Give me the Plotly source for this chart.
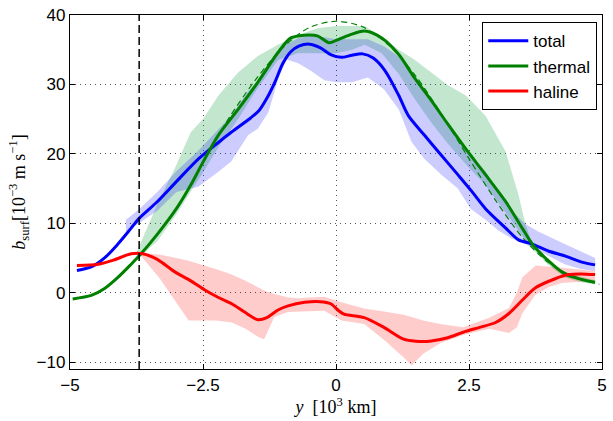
import plotly.graph_objects as go

# ---- data (y in 10^3 km, b_surf in 10^-3 m s^-1) ----
x_total = [-4.87, -4.6, -4.35, -4.1, -3.85, -3.7, -3.36, -3.0, -2.58, -2.2, -1.97, -1.6, -1.45, -1.3,
           -1.15, -1.0, -0.85, -0.7, -0.5, -0.3, -0.1, 0.1, 0.3, 0.5, 0.7, 0.92, 1.18, 1.36, 1.66,
           1.98, 2.29, 2.53, 2.81, 3.19, 3.43, 3.69, 3.99, 4.3, 4.62, 4.87]
y_total = [3.2, 3.7, 5.0, 7.0, 9.3, 10.7, 13.1, 16.0, 19.3, 21.7, 23.1, 25.2, 26.2, 28.0,
           30.3, 33.0, 34.7, 35.5, 35.8, 35.3, 34.3, 33.9, 34.2, 34.4, 33.8, 32.0, 28.4, 25.5, 22.7,
           19.8, 17.0, 14.8, 12.1, 9.3, 7.6, 7.0, 6.0, 5.3, 4.4, 4.0]

x_thermal = [-4.95, -4.6, -4.35, -4.1, -3.85, -3.7, -3.36, -3.0, -2.73, -2.5, -2.21, -1.84, -1.47,
             -1.09, -0.85, -0.59, -0.35, -0.13, 0.02, 0.25, 0.54, 0.86, 1.18, 1.47, 1.79, 2.1, 2.44,
             2.81, 3.19, 3.5, 3.69, 3.99, 4.3, 4.62, 4.87]
y_thermal = [-0.9, -0.4, 0.6, 2.2, 4.1, 5.3, 8.4, 12.1, 15.5, 18.8, 22.7, 26.4, 30.3,
             34.6, 36.7, 37.1, 37.0, 36.0, 36.4, 37.1, 37.7, 36.7, 34.3, 31.0, 27.7, 24.3, 20.7,
             17.0, 13.1, 9.3, 7.0, 4.6, 2.7, 1.9, 1.5]

x_haline = [-4.87, -4.47, -4.18, -3.85, -3.63, -3.36, -3.05, -2.73, -2.45, -2.21, -1.96, -1.72, -1.47,
            -1.3, -1.09, -0.9, -0.59, -0.3, -0.1, 0.05, 0.15, 0.53, 0.9, 1.27, 1.5, 1.76, 2.1, 2.39,
            2.7, 3.0, 3.25, 3.5, 3.75, 4.12, 4.37, 4.6, 4.87]
y_haline = [3.9, 4.1, 4.7, 5.6, 5.6, 4.8, 3.1, 1.7, 0.3, -0.7, -1.6, -2.8, -3.9,
            -3.6, -2.5, -1.9, -1.4, -1.3, -1.6, -2.6, -3.1, -3.6, -5.0, -6.7, -7.0, -7.0, -6.5, -5.7,
            -5.0, -4.3, -3.0, -1.1, 0.7, 2.0, 2.6, 2.7, 2.6]

# fitted thermal profile (dashed)
x_fit = [-3.7, -3.0, -2.5, -2.0, -1.5, -1.0, -0.5, 0.0, 0.5, 1.0, 1.5, 2.0, 2.5, 3.0, 3.5, 4.0, 4.5, 4.95]
y_fit = [5.3, 12.0, 18.8, 25.3, 30.8, 35.3, 38.2, 39.1, 38.3, 35.6, 31.2, 25.5, 19.3, 13.3, 8.0, 4.3, 2.2, 1.2]

# spread envelopes
x_total_band = [-3.95, -3.7, -3.36, -3.0, -2.58, -2.21, -1.97, -1.65, -1.47, -1.27, -1.09, -0.93, -0.72,
                -0.48, -0.22, 0.0, 0.3, 0.6, 0.9, 1.18, 1.42, 1.66, 1.98, 2.29, 2.53, 2.81, 3.06, 3.3,
                3.56, 3.8, 4.3, 4.6, 4.87]
lo_total = [8.8, 10.0, 11.8, 14.5, 15.3, 17.4, 18.9, 22.7, 23.6, 26.0, 30.7, 33.6, 33.1,
            32.0, 30.6, 30.3, 30.3, 31.0, 29.3, 26.4, 21.7, 19.3, 17.0, 15.0, 12.1, 10.5, 8.9, 7.8,
            7.0, 6.0, 4.1, 3.4, 3.1]
hi_total = [10.5, 12.0, 14.5, 17.5, 20.5, 23.5, 25.5, 29.0, 30.5, 32.5, 34.5, 35.8, 36.6,
            37.0, 36.8, 36.5, 36.5, 36.5, 35.5, 34.0, 31.5, 28.8, 25.5, 22.5, 19.8, 17.5, 14.5, 11.8,
            9.9, 8.8, 7.0, 6.0, 5.0]

x_thermal_band = [-3.75, -3.36, -3.0, -2.73, -2.5, -2.21, -1.84, -1.47, -1.09, -0.72, -0.35, 0.0, 0.3,
                  0.54, 0.86, 1.18, 1.47, 1.79, 2.1, 2.44, 2.81, 3.19, 3.43, 3.56, 3.69, 3.99, 4.3,
                  4.6, 4.87]
hi_thermal = [5.8, 12.7, 18.4, 23.1, 25.0, 28.4, 31.7, 34.1, 35.7, 37.1, 38.1, 38.4, 38.4,
              38.4, 36.8, 35.0, 33.6, 31.7, 29.9, 28.4, 25.5, 20.3, 14.1, 9.9, 7.0, 4.5, 3.0,
              2.3, 1.8]
lo_thermal = [4.8, 7.4, 11.3, 14.6, 17.3, 21.0, 25.0, 29.5, 33.5, 34.5, 34.5, 34.5, 35.0,
              35.7, 34.5, 31.5, 28.0, 24.5, 21.5, 18.5, 15.5, 11.5, 9.0, 7.5, 6.3, 4.0, 2.2,
              1.5, 1.2]

x_haline_band = [-3.7, -3.32, -3.0, -2.77, -2.26, -1.96, -1.7, -1.46, -1.35, -1.16, -0.9, -0.72, -0.22,
                 0.1, 0.53, 0.9, 1.15, 1.27, 1.42, 1.64, 1.96, 2.39, 2.88, 3.25, 3.4, 3.5, 3.75, 4.0,
                 4.25, 4.87]
hi_haline = [5.7, 5.5, 5.0, 4.6, 3.4, 2.6, 1.7, 0.8, 0.3, -0.2, -0.7, -0.8, -0.6,
             -1.4, -2.3, -2.7, -3.0, -3.2, -3.5, -4.0, -4.5, -5.0, -3.6, -2.2, 0.0, 2.2, 3.9, 3.8,
             3.6, 3.1]
lo_haline = [5.6, 2.1, -1.4, -4.0, -4.0, -4.3, -5.2, -6.4, -6.7, -3.5, -2.8, -2.8, -2.6,
             -4.0, -4.5, -6.8, -8.5, -9.3, -10.5, -8.8, -7.3, -6.1, -5.2, -5.8, -5.0, -3.0, -0.3, 0.8,
             1.4, 1.7]

y_divide = -3.7  # vertical reference position

x_ticks = [-5, -2.5, 0, 2.5, 5]
x_ticklabels = ["\u22125", "\u22122.5", "0", "2.5", "5"]
y_ticks = [-10, 0, 10, 20, 30, 40]
y_ticklabels = ["\u221210", "0", "10", "20", "30", "40"]

names = ["total", "thermal", "haline"]
line_colors = ["#0000ff", "#008000", "#ff0000"]
band_colors = ["rgba(0,0,255,0.2)", "rgba(0,150,50,0.24)", "rgba(255,0,0,0.2)"]

fig = go.Figure()


def band(x, lo, hi, color):
    fig.add_trace(go.Scatter(
        x=list(x) + list(x)[::-1], y=list(hi) + list(lo)[::-1],
        fill="toself", fillcolor=color, mode="lines", line=dict(width=0),
        hoverinfo="skip", showlegend=False))


band(x_thermal_band, lo_thermal, hi_thermal, band_colors[1])
band(x_total_band, lo_total, hi_total, band_colors[0])
band(x_haline_band, lo_haline, hi_haline, band_colors[2])

fig.add_trace(go.Scatter(x=x_fit, y=y_fit, mode="lines", showlegend=False,
                         line=dict(color=line_colors[1], width=1.2, dash="6px,4px",
                                   shape="spline", smoothing=0.8)))

for xs, ys, nm, c in [(x_total, y_total, names[0], line_colors[0]),
                      (x_thermal, y_thermal, names[1], line_colors[1]),
                      (x_haline, y_haline, names[2], line_colors[2])]:
    fig.add_trace(go.Scatter(x=xs, y=ys, mode="lines", name=nm,
                             line=dict(color=c, width=3, shape="spline", smoothing=0.8)))

fig.add_shape(type="line", xref="x", yref="paper", x0=y_divide, x1=y_divide, y0=0, y1=1,
              line=dict(color="black", width=1.5, dash="8px,4px"))

tick_font = dict(family="Liberation Sans, Arial, sans-serif", size=17, color="black")
serif = "Liberation Serif, DejaVu Serif, serif"

axis_common = dict(showline=True, linecolor="black", linewidth=1.3, mirror="ticks",
                   ticks="inside", ticklen=5, tickcolor="black", tickfont=tick_font,
                   showgrid=True, gridcolor="rgba(40,40,40,0.8)", griddash="1px,4px", gridwidth=1,
                   zeroline=False)

fig.update_layout(
    width=613, height=421,
    margin=dict(l=70, r=6, t=12, b=52),
    paper_bgcolor="white", plot_bgcolor="white",
    xaxis=dict(range=[-5, 5], tickvals=x_ticks, ticktext=x_ticklabels,
               title=dict(text="<i>y</i>  [10<sup>3</sup> km]", standoff=2,
                          font=dict(family=serif, size=18, color="black")),
               **axis_common),
    yaxis=dict(range=[-11, 40], tickvals=y_ticks, ticktext=y_ticklabels,
               title=dict(text="<i>b</i><sub>surf</sub>[10<sup>\u22123</sup> m s<sup>\u22121</sup>]",
                          standoff=6, font=dict(family=serif, size=18, color="black")),
               **axis_common),
    legend=dict(x=0.9907, y=0.98, xanchor="right", yanchor="top",
                bgcolor="white", bordercolor="black", borderwidth=1.2,
                font=dict(family="Liberation Sans, Arial, sans-serif", size=17, color="black"),
                tracegroupgap=0, itemwidth=40),
    showlegend=True,
)

fig.write_html("out.html")
